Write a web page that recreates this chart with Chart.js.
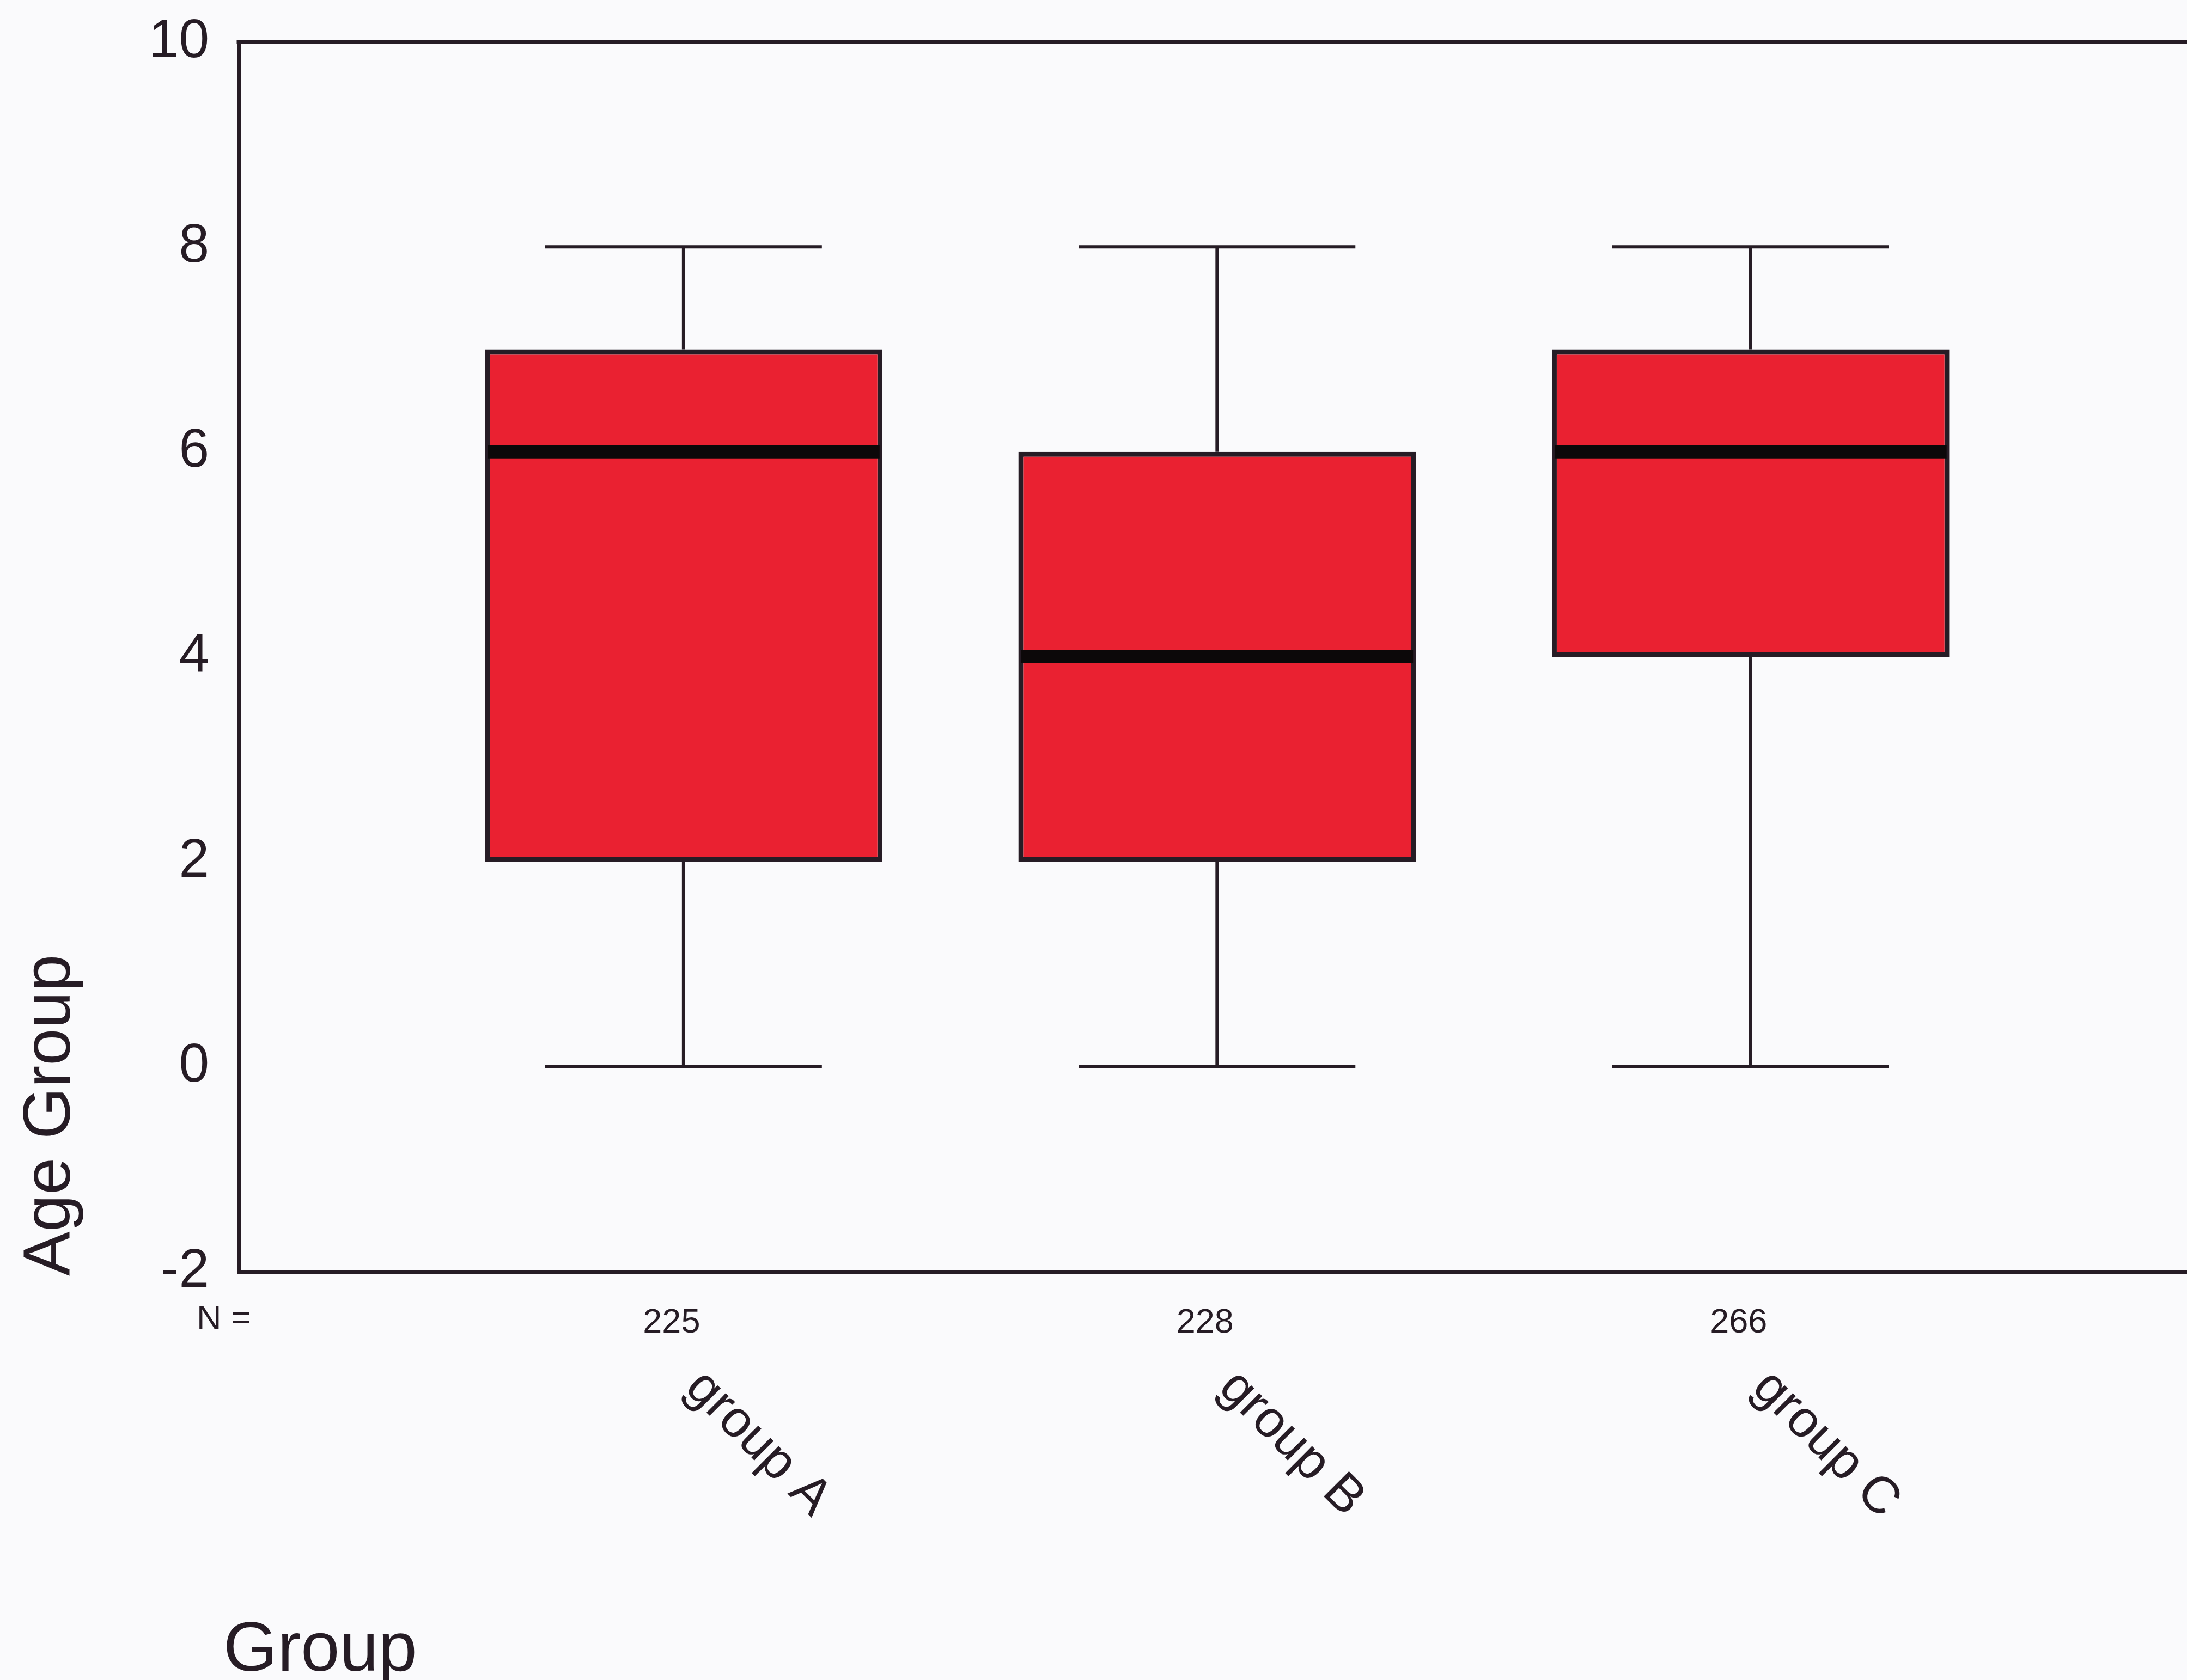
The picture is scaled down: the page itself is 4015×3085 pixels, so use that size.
<!DOCTYPE html>
<html>
<head>
<meta charset="utf-8">
<title>Age Group by Group</title>
<script src="https://cdn.jsdelivr.net/npm/chart.js@4/dist/chart.umd.min.js"></script>
<style>
  html, body { margin: 0; padding: 0; background: #fafafc; overflow: hidden; }
  #wrap { width: 4015px; height: 3085px; position: relative; }
</style>
</head>
<body>
<div id="wrap"><canvas id="chart"></canvas></div>
<script>
// Box-plot summary per group
const groups = ['group A', 'group B', 'group C'];
const counts = [225, 228, 266];
const whiskerLow = [0, 0, 0];
const quartile1 = [2, 2, 4];
const medians = [6, 4, 6];
const quartile3 = [7, 6, 7];
const whiskerHigh = [8, 8, 8];
const yTickValues = [-2, 0, 2, 4, 6, 8, 10];

const INK = '#261c25';
const FONT = "'Liberation Sans', Arial, Helvetica, sans-serif";

// Whiskers, caps and medians, placed with the chart's own scales
const boxDecor = {
  id: 'boxDecor',
  afterDatasetsDraw(chart) {
    const { ctx } = chart;
    const xs = chart.scales.x, ys = chart.scales.y;
    const meta = chart.getDatasetMeta(0);
    ctx.save();
    meta.data.forEach((bar, i) => {
      const { width } = bar.getProps(['width'], true);
      const cx = xs.getPixelForValue(i);
      const capHalf = width * 0.348;
      const yLo = ys.getPixelForValue(whiskerLow[i]);
      const yQ1 = ys.getPixelForValue(quartile1[i]);
      const yQ3 = ys.getPixelForValue(quartile3[i]);
      const yHi = ys.getPixelForValue(whiskerHigh[i]);
      const yMed = ys.getPixelForValue(medians[i]);
      ctx.strokeStyle = INK;
      ctx.lineWidth = 6;
      ctx.lineCap = 'butt';
      ctx.beginPath();
      ctx.moveTo(cx, yQ3); ctx.lineTo(cx, yHi);
      ctx.moveTo(cx, yQ1); ctx.lineTo(cx, yLo);
      ctx.moveTo(cx - capHalf, yHi); ctx.lineTo(cx + capHalf, yHi);
      ctx.moveTo(cx - capHalf, yLo); ctx.lineTo(cx + capHalf, yLo);
      ctx.stroke();
      // median band
      ctx.strokeStyle = '#0c0809';
      ctx.lineWidth = 24;
      ctx.beginPath();
      ctx.moveTo(cx - width / 2 + 5, yMed);
      ctx.lineTo(cx + width / 2 - 5, yMed);
      ctx.stroke();
    });
    ctx.restore();
  }
};

// Frame top edge, category names, axis titles and the "N =" caption
const frameAndText = {
  id: 'frameAndText',
  afterDraw(chart) {
    const { ctx, chartArea } = chart;
    const xs = chart.scales.x;
    ctx.save();
    ctx.strokeStyle = INK;
    ctx.lineWidth = 7;
    ctx.beginPath();
    ctx.moveTo(chartArea.left - 3.5, chartArea.top);
    ctx.lineTo(chartArea.right, chartArea.top);
    ctx.stroke();

    ctx.fillStyle = INK;
    // rotated group names
    ctx.font = `95px ${FONT}`;
    ctx.textAlign = 'left';
    ctx.textBaseline = 'alphabetic';
    groups.forEach((g, i) => {
      const x = xs.getPixelForValue(i);
      ctx.save();
      ctx.translate(x, chartArea.bottom + 217);
      ctx.rotate(Math.PI / 4);
      ctx.fillText(g, 0, 0);
      ctx.restore();
    });

    // "N =" caption on the count row
    ctx.font = `63px ${FONT}`;
    ctx.textBaseline = 'top';
    ctx.fillText('N =', chartArea.left - 77, chartArea.bottom + 57);

    // y axis title
    ctx.font = `122px ${FONT}`;
    ctx.textBaseline = 'alphabetic';
    ctx.save();
    ctx.translate(128, chartArea.bottom + 8);
    ctx.rotate(-Math.PI / 2);
    ctx.fillText('Age Group', 0, 0);
    ctx.restore();

    // x axis title
    ctx.font = `128px ${FONT}`;
    ctx.fillText('Group', chartArea.left - 28, 3068);
    ctx.restore();
  }
};

Chart.defaults.font.family = FONT;
Chart.defaults.color = INK;

new Chart(document.getElementById('chart'), {
  type: 'bar',
  data: {
    datasets: [{
      data: groups.map((g, i) => ({ x: i, y: [quartile1[i], quartile3[i]] })),
      backgroundColor: '#ea2131',
      borderColor: INK,
      borderWidth: 9,
      borderSkipped: false,
      barPercentage: 0.745,
      categoryPercentage: 1
    }]
  },
  options: {
    responsive: true,
    maintainAspectRatio: false,
    devicePixelRatio: 1,
    animation: false,
    events: [],
    layout: { padding: { top: 77, right: 0, bottom: 0, left: 0 } },
    plugins: {
      legend: { display: false },
      tooltip: { enabled: false },
      title: { display: false }
    },
    scales: {
      x: {
        type: 'linear',
        offset: false,
        min: -0.834,
        max: 2.818,
        afterBuildTicks(scale) {
          scale.ticks = counts.map((c, i) => ({ value: i }));
        },
        afterFit(scale) { scale.height = 750; },
        grid: { display: false, drawTicks: false },
        border: { display: true, color: INK, width: 7 },
        ticks: {
          callback: (v, idx) => String(counts[idx]),
          font: { size: 63 },
          color: INK,
          padding: 57,
          labelOffset: -22,
          maxRotation: 0,
          minRotation: 0,
          autoSkip: false
        }
      },
      y: {
        type: 'linear',
        min: -2,
        max: 10,
        afterBuildTicks(scale) {
          scale.ticks = yTickValues.map(v => ({ value: v }));
        },
        afterFit(scale) { scale.width = 438; },
        // invisible tick marks keep the labels clear of the frame
        grid: { display: true, drawOnChartArea: false, drawTicks: true, tickLength: 54, color: 'rgba(0,0,0,0)' },
        border: { display: true, color: INK, width: 7 },
        ticks: {
          font: { size: 100 },
          color: INK,
          padding: 0
        }
      }
    }
  },
  plugins: [boxDecor, frameAndText]
});
</script>
</body>
</html>
